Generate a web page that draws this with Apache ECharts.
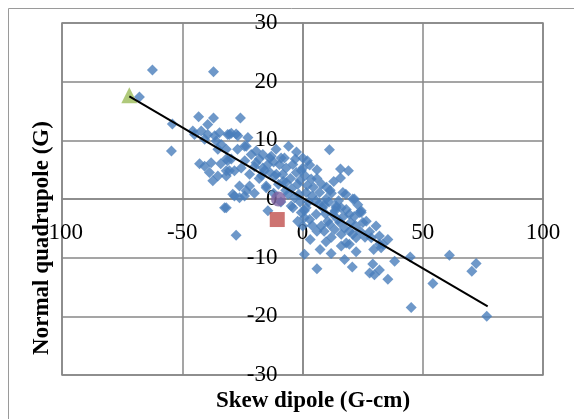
<!DOCTYPE html>
<html>
<head>
<meta charset="utf-8">
<script src="https://cdn.jsdelivr.net/npm/echarts@6/dist/echarts.min.js"></script>
<style>
  html, body { margin: 0; padding: 0; background: #fff; }
  #chart { width: 574px; height: 419px; }
</style>
</head>
<body>
<div id="chart"></div>
<script>
// skew dipole (G-cm), normal quadrupole (G)
const dipolePoints = [
  [-62.4, 22.0], [-37.0, 21.7], [-67.8, 17.4], [-54.1, 12.8], [-54.5, 8.2], [-43.2, 14.0], [-37.0, 13.8], [-25.8, 13.8],
  [-39.4, 12.7], [-44.9, 11.0], [-42.1, 11.6], [-39.4, 11.0], [-40.7, 10.2], [-35.9, 9.9], [-33.8, 9.3], [-35.2, 8.5],
  [-31.1, 11.0], [-31.7, 6.8], [-38.0, 6.2], [-40.7, 5.6], [-38.7, 4.5], [-35.2, 3.9], [-37.3, 3.1], [-31.7, 4.8],
  [-32.4, -1.5], [-42.8, 6.0], [-31.1, 6.5], [-28.3, 4.8], [-24.1, 9.0], [-19.3, 8.2], [-45.6, 11.6], [-34.5, 11.3],
  [-30.4, 11.0], [-27.6, 11.1], [-16.5, 5.3], [-13.7, 7.0], [-8.9, 7.0], [-6.8, 5.3], [-29.0, 0.8], [-26.2, 0.2],
  [-23.4, 1.4], [-15.1, 1.9], [-10.9, 4.2], [-27.6, -6.2], [-31.7, -1.5], [-14.4, -2.0], [-4.7, -1.2], [-2.0, -3.8],
  [-3.3, 0.2], [-0.5, -2.3], [-29.6, 11.2], [-26.9, 10.8], [-22.7, 10.5], [-23.4, 9.0], [-31.7, 8.5], [-21.3, 7.6],
  [-16.5, 7.6], [-13.0, 7.3], [-7.5, 7.0], [-29.6, 6.8], [-19.3, 6.2], [-14.4, 5.9], [-9.6, 5.9], [-4.0, 5.9],
  [-30.4, 4.8], [-25.5, 5.3], [-22.0, 4.2], [-15.8, 4.8], [-11.6, 3.9], [-8.2, 4.2], [-2.6, 4.5], [0.1, 5.3],
  [-26.2, 2.2], [-22.0, 2.2], [-15.1, 2.2], [-6.8, 2.8], [-2.0, 2.5], [-28.3, 0.5], [-24.1, 0.5], [-31.7, 3.9],
  [-5.8, 9.0], [11.2, 8.4], [15.8, 5.1], [19.1, 4.8], [15.8, 3.6], [0.1, 7.0], [21.6, 0.0],
  [-0.5, 4.8], [3.6, 3.4], [1.5, 1.1], [7.1, 1.1], [16.8, 1.1], [20.9, 0.0], [24.4, -2.0], [9.8, 0.0],
  [14.0, -1.2], [18.2, -1.8], [5.7, -0.3], [0.8, -2.0], [12.6, -2.6],
  [-4.0, -1.5], [0.1, -4.6], [5.7, -2.6], [7.8, -4.6], [10.5, -3.8], [14.7, -3.5], [13.3, -5.2], [20.9, -6.0],
  [18.2, -7.5], [16.1, -8.0], [19.5, -7.7], [24.4, -2.3], [25.1, -4.0], [30.6, -4.6], [27.9, -5.6], [32.0, -7.7],
  [29.6, -8.6], [3.2, -6.9], [7.3, -8.6], [9.8, -7.3], [11.9, -9.3], [0.8, -9.4], [6.0, -11.9], [17.5, -10.3],
  [20.7, -11.6], [22.3, -9.0], [27.9, -12.6], [29.9, -12.9], [29.2, -11.1], [16.1, -6.0], [11.2, -4.3], [0.8, -3.2],
  [1.5, -1.5], [8.4, -1.5], [14.0, -1.5], [19.5, -2.6], [23.7, -2.3], [26.5, -3.8], [33.4, -7.7], [22.3, -6.6],
  [28.6, -6.6], [16.1, -1.5],
  [35.5, -6.9], [32.7, -8.3], [38.3, -10.6], [35.5, -13.7], [44.8, -9.9], [45.2, -18.5], [54.2, -14.4], [61.1, -9.6],
  [72.2, -11.0], [70.4, -12.3], [76.6, -20.0], [32.0, -6.3], [32.0, -12.1],
  [-18.0, 6.8], [-12.0, 6.3], [-8.0, 3.0], [-5.0, 3.5], [-3.0, 6.8], [-1.0, 3.2], [2.0, 2.3], [3.0, 5.8],
  [4.0, 0.5], [6.0, 3.5], [8.0, 2.5], [9.0, -1.0], [10.0, 2.0], [11.0, -0.5], [12.0, 1.0], [13.0, 3.0],
  [15.0, -0.3], [17.0, -3.0], [18.0, 0.8], [20.0, -4.0], [22.0, -4.5], [23.0, -1.0], [12.0, -6.5], [6.0, -5.5],
  [3.0, -3.5], [-6.0, 0.8], [-12.0, 1.0], [-18.0, 3.5], [-20.0, 5.5],
  [-17.0, 4.0], [-13.5, 4.5], [-10.0, 2.5], [-7.0, 1.5], [-4.5, 1.8], [-1.5, 0.8], [1.0, 4.0], [2.5, -0.5],
  [4.5, 2.0], [7.0, -0.8], [9.5, -2.5], [11.5, 1.5], [13.5, -2.0], [15.5, -4.0], [17.5, -5.0], [19.5, -5.5],
  [21.5, -3.0], [24.0, -5.5], [26.0, -6.5], [9.0, -5.5], [4.0, -4.5], [-1.0, -0.5], [-9.0, -0.5], [-20.0, 1.0],
  [-24.0, 6.5], [-27.0, 8.5], [-34.0, 6.0], [-36.5, 10.8], [-11.0, 8.5], [-2.5, 8.0], [2.0, 6.5], [6.0, 5.0]
];
const trianglePoint = [[-72, 17.7]];
const circlePoint = [[-10, 0.0]];
const squarePoint = [[-10.5, -3.5]];
const trendLine = [[-72, 17.5], [77, -18.3]];

const xTitle = 'Skew dipole (G-cm)';
const yTitle = 'Normal quadrupole (G)';

const serif = 'Liberation Serif, Times New Roman, serif';
const gridGray = '#878787';

const myChart = echarts.init(document.getElementById('chart'));

// grid: plot area 62..543 x 23..375, zero lines sit in the middle
const option = {
  animation: false,
  backgroundColor: '#fff',
  grid: {
    left: 62,
    right: 31,
    top: 23,
    bottom: 44,
    show: true,
    borderColor: gridGray,
    borderWidth: 1.5
  },
  xAxis: {
    type: 'value',
    min: -100,
    max: 100,
    interval: 50,
    offset: -176,
    axisLine: { onZero: false, lineStyle: { color: gridGray, width: 1.5 } },
    axisTick: { show: false },
    splitLine: { show: true, lineStyle: { color: gridGray, width: 1.5 } },
    axisLabel: { margin: 22, color: '#000', fontFamily: serif, fontSize: 23 }
  },
  yAxis: {
    type: 'value',
    min: -30,
    max: 30,
    interval: 10,
    offset: -240.5,
    axisLine: { onZero: false, lineStyle: { color: gridGray, width: 1.5 } },
    axisTick: { show: false },
    splitLine: { show: true, lineStyle: { color: gridGray, width: 1.5 } },
    axisLabel: { margin: 25, color: '#000', fontFamily: serif, fontSize: 23 }
  },
  graphic: [
    {
      type: 'rect',
      shape: { x: 8.5, y: 8.5, width: 700, height: 700 },
      style: { fill: 'none', stroke: '#9a9a9a', lineWidth: 1 },
      silent: true
    },
    {
      type: 'text',
      x: 313,
      y: 401,
      style: {
        text: xTitle,
        font: 'bold 23px ' + serif,
        fill: '#000',
        textAlign: 'center',
        textVerticalAlign: 'middle'
      }
    },
    {
      type: 'text',
      x: 42,
      y: 238,
      rotation: Math.PI / 2,
      style: {
        text: yTitle,
        font: 'bold 23px ' + serif,
        fill: '#000',
        textAlign: 'center',
        textVerticalAlign: 'middle'
      }
    }
  ],
  series: [
    {
      type: 'scatter',
      data: dipolePoints,
      symbol: 'diamond',
      symbolSize: 11,
      itemStyle: { color: '#4A7EBB' }
    },
    {
      type: 'scatter',
      data: trianglePoint,
      symbol: 'triangle',
      symbolSize: [16, 16],
      itemStyle: { color: '#9BBB59' }
    },
    {
      type: 'scatter',
      data: circlePoint,
      symbol: 'circle',
      symbolSize: 15,
      itemStyle: { color: '#8064A2' }
    },
    {
      type: 'scatter',
      data: squarePoint,
      symbol: 'rect',
      symbolSize: 15,
      itemStyle: { color: '#C0504D' }
    },
    {
      type: 'line',
      data: trendLine,
      symbol: 'none',
      lineStyle: { color: '#000', width: 2 }
    }
  ]
};

myChart.setOption(option);
</script>
</body>
</html>
